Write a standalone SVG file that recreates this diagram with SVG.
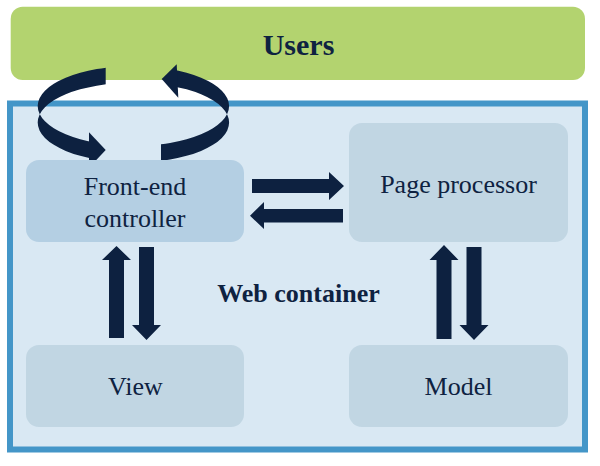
<svg xmlns="http://www.w3.org/2000/svg" width="600" height="466" viewBox="0 0 600 466">
  <style>
    .arr { fill: #0d2140; }
    text { font-family: 'Liberation Serif', 'Times New Roman', serif; font-size: 26px; fill: #0e2241; text-anchor: middle; }
    .bold { font-weight: bold; }
    .node { fill: #c1d6e3; }
  </style>
  <defs>
    <clipPath id="clipL">
      <polygon points="0,0 105.7,0 105.7,115 90,115 90,200 0,200"/>
    </clipPath>
    <clipPath id="clipR">
      <polygon points="177,0 300,0 300,200 161,200 161,115 177,115"/>
    </clipPath>
    <path id="ring" fill-rule="evenodd" d="M37.7,106 a95.7,40 0 1,0 191.4,0 a95.7,40 0 1,0 -191.4,0 Z M37.7,122.6 a95.7,40 0 1,0 191.4,0 a95.7,40 0 1,0 -191.4,0 Z"/>
  </defs>
  <rect width="600" height="466" fill="#ffffff"/>

  <g id="web-container">
    <rect x="10" y="103.5" width="575" height="346" fill="#d9e8f3" stroke="#4496c8" stroke-width="6"/>
    <text class="bold" x="298.5" y="301.5">Web container</text>
  </g>

  <g id="users">
    <rect x="10.7" y="6.7" width="574.3" height="73.3" rx="12" fill="#b3d36f"/>
    <text class="bold" x="298.5" y="55" style="font-size:30px">Users</text>
  </g>

  <g id="connectors">
    <use href="#ring" class="arr" clip-path="url(#clipL)"/>
    <polygon class="arr" points="89,132.3 105.7,150 89,167.7"/>
    <use href="#ring" class="arr" clip-path="url(#clipR)"/>
    <polygon class="arr" points="176.7,64.3 161.7,79 178.3,97.7"/>

    <polygon class="arr" points="252,179 329,179 329,172 344,186 329,200 329,193 252,193"/>
    <polygon class="arr" points="343,209 264,209 264,202 250,215.7 264,229 264,222.5 343,222.5"/>

    <polygon class="arr" points="116.5,246 131,260 124,260 124,338 109,338 109,260 102,260"/>
    <polygon class="arr" points="139,247 154,247 154,325 161,325 146.5,340 132,325 139,325"/>

    <polygon class="arr" points="444,245 458.5,260 451.5,260 451.5,339 436.5,339 436.5,260 429.5,260"/>
    <polygon class="arr" points="466.5,247 481.5,247 481.5,325 488.5,325 474,340 459.5,325 466.5,325"/>
  </g>

  <g id="front-end-controller">
    <rect x="26" y="160" width="218" height="82" rx="13" fill="#b4cfe3"/>
    <text x="135" y="195">Front-end</text>
    <text x="135" y="227">controller</text>
  </g>

  <g id="page-processor">
    <rect class="node" x="349" y="123" width="219" height="119" rx="13"/>
    <text x="458.5" y="192.5">Page processor</text>
  </g>

  <g id="view">
    <rect class="node" x="26" y="345" width="218" height="82" rx="13"/>
    <text x="135.5" y="395">View</text>
  </g>

  <g id="model">
    <rect class="node" x="349" y="345" width="219" height="82" rx="13"/>
    <text x="458.5" y="395">Model</text>
  </g>
</svg>
